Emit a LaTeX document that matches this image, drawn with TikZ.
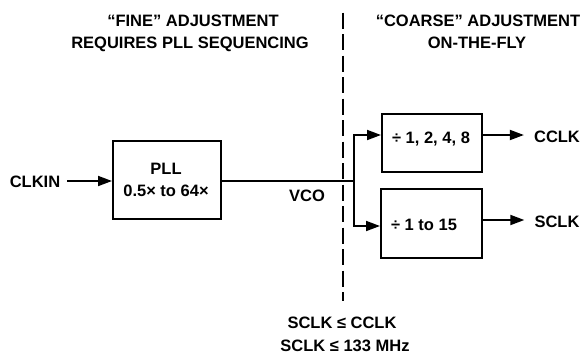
\documentclass[tikz,border=0pt]{standalone}
\usepackage{fontspec}
\setmainfont{Liberation Sans}
\usetikzlibrary{arrows.meta}
\begin{document}
\begin{tikzpicture}[x=1pt,y=-1pt,
  lbl/.style={inner sep=0pt, text height=11.8pt, text depth=0pt, font=\fontsize{16.5}{19}\selectfont\bfseries},
  blk/.style={draw, line width=2pt, inner sep=0pt},
  wire/.style={line width=1.8pt},
  arr/.style={line width=1.8pt, -{Triangle[length=14pt,width=10pt]}},
  divider/.style={line width=2pt, dash pattern=on 16pt off 5.5pt}]
\useasboundingbox (0,0) rectangle (584,354);
% headers
\node[lbl] (h1) at (193,20.5) {“FINE” ADJUSTMENT};
\node[lbl] (h2) at (190,43) {REQUIRES PLL SEQUENCING};
\node[lbl] (h3) at (478,20.5) {“COARSE” ADJUSTMENT};
\node[lbl] (h4) at (477,43) {ON-THE-FLY};
% divider
\coordinate (dtop) at (343,12.7);
\coordinate (dbot) at (343,301);
\draw[divider] (dtop) -- (dbot);
% boxes
\node[blk, minimum width=108pt, minimum height=78pt] (pll) at (167,180) {};
\node[lbl] (pllt1) at (166,169) {PLL};
\node[lbl] (pllt2) at (166,190.5) {0.5× to 64×};
\node[blk, minimum width=100pt, minimum height=58pt] (updiv) at (432,143) {};
\node[lbl] (updivt) at (431,138) {÷ 1, 2, 4, 8};
\node[blk, minimum width=101pt, minimum height=69pt] (lodiv) at (431.5,223.5) {};
\node[lbl] (lodivt) at (424,225) {÷ 1 to 15};
% labels
\node[lbl] (clkin) at (35,182) {CLKIN};
\node[lbl] (vco) at (307,196) {VCO};
\node[lbl] (cclk) at (557,137) {CCLK};
\node[lbl] (sclk) at (557,222) {SCLK};
\node[lbl] (c1) at (342,322.5) {SCLK ≤ CCLK};
\node[lbl] (c2) at (345,345.5) {SCLK ≤ 133 MHz};
% connectors
\coordinate (junc) at (354,181);
\draw[arr] ([xshift=7pt]clkin.east |- 0,181) -- (pll.west |- 0,181);
\draw[wire] (pll.east |- 0,181) -- (junc);
\draw[arr] (junc) |- (updiv.west |- 0,135);
\draw[arr] (junc) |- (lodiv.west |- 0,226);
\draw[arr] (updiv.east |- 0,135) -- ([xshift=-10pt]cclk.west |- 0,135);
\draw[arr] (lodiv.east |- 0,220) -- ([xshift=-10pt]sclk.west |- 0,220);
\end{tikzpicture}
\end{document}
